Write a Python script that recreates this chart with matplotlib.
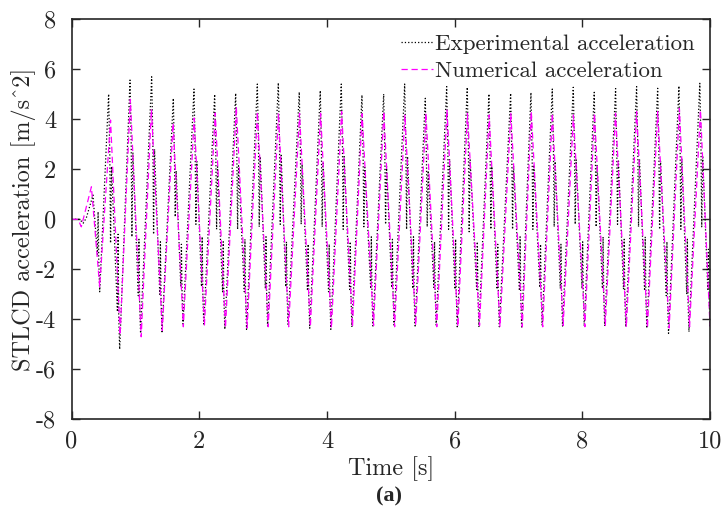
import numpy as np
import matplotlib
matplotlib.use("Agg")
import matplotlib.pyplot as plt

plt.rcParams['font.family'] = ['cmr10', 'DejaVu Serif']
plt.rcParams['axes.unicode_minus'] = False
plt.rcParams['mathtext.fontset'] = 'cm'

# ---------------- data ----------------
# start-up transient
exp_start_t = [0.0, 0.127, 0.18, 0.23, 0.335]
exp_start_v = [0.0, 0.0, -0.16, 0.05, 0.97]
num_start_t = [0.0, 0.10, 0.152, 0.31]
num_start_v = [0.0, 0.0, -0.30, 1.30]

# experimental extrema
exp_peak_t = [0.58, 0.915, 1.254, 1.593, 1.917, 2.241, 2.57, 2.909, 3.238, 3.566,
              3.895, 4.224, 4.548, 4.888, 5.217, 5.54, 5.875, 6.197, 6.537, 6.877,
              7.195, 7.529, 7.858, 8.186, 8.521, 8.85, 9.18, 9.513, 9.84]
exp_peak_v = [5.01, 5.57, 5.70, 4.84, 5.21, 5.00, 5.04, 5.41, 5.46, 5.09,
              5.15, 5.41, 4.97, 5.01, 5.41, 4.84, 5.31, 5.28, 5.01, 5.04,
              5.07, 5.21, 5.28, 5.08, 5.23, 5.31, 5.24, 5.33, 5.44]
exp_trough_t = [0.44, 0.753, 1.08, 1.416, 1.745, 2.07, 2.40, 2.74, 3.07, 3.39,
                3.73, 4.06, 4.39, 4.72, 5.05, 5.38, 5.71, 6.04, 6.38, 6.70,
                7.05, 7.37, 7.69, 8.03, 8.35, 8.68, 9.01, 9.35, 9.67, 10.0]
exp_trough_v = [-2.90, -5.20, -4.56, -4.50, -4.19, -4.19, -4.40, -4.40, -4.27, -4.20,
                -4.36, -4.40, -4.31, -4.27, -4.23, -4.27, -4.23, -4.30, -4.31, -4.30,
                -4.36, -4.23, -4.27, -4.27, -4.27, -4.30, -4.36, -4.56, -4.50, -4.30]
# short noise spikes of the measured signal
exp_spike_after_peak = [-0.95, -0.7, -0.6, 0.1, -0.2, -0.4, -0.4, -0.3, -0.2, -0.2,
                        -0.3, -0.4, -0.3, -0.2, -0.4, -0.3, -0.4, -0.5, -0.4, -0.4,
                        -0.4, -0.3, -0.2, -0.3, -0.2, -0.3, -0.4, -0.4, -0.3]
exp_spike_before_trough = [0.30, -0.6, -0.8, -0.9, -1.0, -0.7, -0.9, -0.8, -0.7, -0.9,
                           -1.0, -1.0, -0.9, -0.7, -0.8, -0.7, -0.9, -0.8, -0.9, -1.0,
                           -0.7, -1.0, -1.0, -0.9, -0.7, -0.8, -0.7, -0.9, -0.8, -1.2]

# numerical extrema
num_peak_t = [0.61, 0.92, 1.25, 1.59, 1.92, 2.25, 2.58, 2.91, 3.24, 3.57,
              3.90, 4.23, 4.55, 4.89, 5.22, 5.55, 5.88, 6.20, 6.54, 6.88,
              7.20, 7.53, 7.86, 8.19, 8.52, 8.85, 9.18, 9.52, 9.85]
num_peak_v = [3.97, 4.80, 4.40, 3.85, 4.05, 4.25, 4.50, 4.30, 4.25, 4.24,
              4.24, 4.31, 4.22, 4.31, 4.17, 4.24, 4.37, 4.24, 4.17, 4.24,
              4.31, 4.24, 4.17, 4.24, 4.24, 4.31, 4.31, 4.44, 4.37]
num_trough_t = [0.44, 0.76, 1.09, 1.42, 1.75, 2.08, 2.41, 2.75, 3.08, 3.40,
                3.74, 4.07, 4.40, 4.73, 5.06, 5.39, 5.72, 6.05, 6.39, 6.71,
                7.06, 7.38, 7.70, 8.04, 8.36, 8.69, 9.02, 9.36, 9.68, 10.0]
num_trough_v = [-2.70, -4.63, -4.70, -4.45, -4.30, -4.25, -4.35, -4.35, -4.30, -4.30,
                -4.30, -4.35, -4.30, -4.25, -4.30, -4.25, -4.30, -4.30, -4.25, -4.30,
                -4.30, -4.30, -4.25, -4.30, -4.25, -4.30, -4.35, -4.35, -4.30, -4.30]

x_ticks = [0, 2, 4, 6, 8, 10]
y_ticks = [-8, -6, -4, -2, 0, 2, 4, 6, 8]

# ---------------- assemble polylines ----------------
exp_t = list(exp_start_t)
exp_v = list(exp_start_v)
for i, (tt, tv) in enumerate(zip(exp_trough_t, exp_trough_v)):
    exp_t += [tt - 0.035, tt - 0.025, tt - 0.015, tt]
    exp_v += [tv + 1.5, exp_spike_before_trough[i], tv + 1.3, tv]
    if i < len(exp_peak_t):
        pt, pv = exp_peak_t[i], exp_peak_v[i]
        exp_t += [pt, pt + 0.018, pt + 0.03, pt + 0.045]
        exp_v += [pv, pv - 2.4, exp_spike_after_peak[i], pv - 2.9]

num_t = list(num_start_t)
num_v = list(num_start_v)
for i, (tt, tv) in enumerate(zip(num_trough_t, num_trough_v)):
    num_t.append(tt)
    num_v.append(tv)
    if i < len(num_peak_t):
        num_t.append(num_peak_t[i])
        num_v.append(num_peak_v[i])

# ---------------- figure ----------------
fig = plt.figure(figsize=(7.24, 5.20), dpi=100)
ax = fig.add_axes([0.0989, 0.1937, 0.8818, 0.7692])

ax.plot(exp_t, exp_v, color='black', linestyle=':', linewidth=0.9,
        label='Experimental acceleration')
ax.plot(num_t, num_v, color='#ff00ff', linestyle=(0, (5, 3)), linewidth=0.9,
        label='Numerical acceleration')

ax.set_xlim(0, 10)
ax.set_ylim(-8, 8)
ax.set_xticks(x_ticks)
ax.set_xticklabels([str(v) for v in x_ticks])
ax.set_yticks(y_ticks)
ax.set_yticklabels([str(v) for v in y_ticks])

for s in ax.spines.values():
    s.set_linewidth(1.2)
    s.set_color('#262626')
ax.tick_params(direction='in', length=6, width=1.0, colors='#262626',
               top=True, right=True, labelsize=17.5)
ax.tick_params(axis='x', pad=8)
ax.tick_params(axis='y', pad=11)

ax.set_xlabel('Time [s]', fontsize=17.5, color='#262626', labelpad=3)
ax.set_ylabel('STLCD acceleration [m/s^2]', fontsize=17.5, color='#262626', labelpad=0)

leg = ax.legend(loc='upper right', bbox_to_anchor=(1.0, 1.0), frameon=False,
                fontsize=16.5, handlelength=1.4, handletextpad=0.1,
                labelspacing=0.28, borderaxespad=0.25)
for t in leg.get_texts():
    t.set_color('#262626')

fig.text(0.537, 0.046, '(a)', ha='center', va='center', fontsize=16,
         family=['Liberation Serif'], fontweight='bold', color='#262626')

fig.savefig('out.png', dpi=100)
